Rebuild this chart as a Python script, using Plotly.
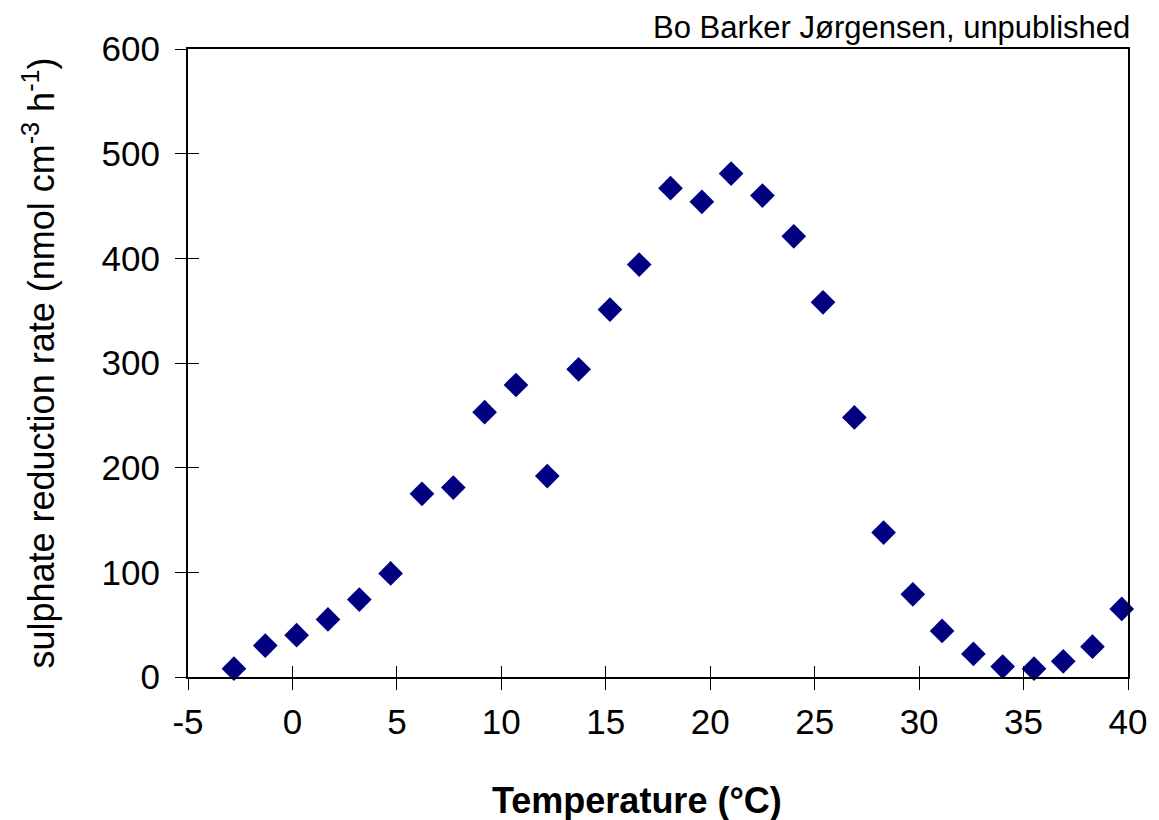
import plotly.graph_objects as go

temperature = [-2.8, -1.3, 0.2, 1.7, 3.2, 4.7, 6.2, 7.7, 9.2, 10.7, 12.2, 13.7, 15.2, 16.6,
               18.1, 19.6, 21.0, 22.5, 24.0, 25.4, 26.9, 28.3, 29.7, 31.1, 32.6, 34.0,
               35.5, 36.9, 38.3, 39.7]
rate = [8, 30, 40, 55, 74, 99, 175, 181, 253, 279, 192, 294, 351, 394,
        467, 454, 481, 460, 421, 358, 248, 138, 79, 44, 22, 10, 8, 15, 29, 65]

x_ticks = [-5, 0, 5, 10, 15, 20, 25, 30, 35, 40]
y_ticks = [0, 100, 200, 300, 400, 500, 600]

FONT = "Liberation Sans, Arial, sans-serif"

fig = go.Figure()
fig.add_trace(go.Scatter(
    x=temperature, y=rate, mode="markers", cliponaxis=False,
    marker=dict(symbol="diamond", size=19, color="#000080", line=dict(width=0)),
    showlegend=False, hoverinfo="x+y",
))
# helper trace on overlay axes to draw inside half of crossing ticks
fig.add_trace(go.Scatter(x=[None], y=[None], xaxis="x2", yaxis="y2",
                         showlegend=False, hoverinfo="skip"))

fig.update_layout(
    width=1159, height=820,
    margin=dict(l=188, r=26, t=49, b=143),
    paper_bgcolor="white", plot_bgcolor="white",
    font=dict(family=FONT, color="black"),
    xaxis=dict(
        range=[-5, 40], tickvals=x_ticks, ticktext=[str(v) for v in x_ticks],
        showgrid=False, zeroline=False,
        showline=True, linecolor="black", linewidth=2, mirror=True,
        ticks="outside", ticklen=11, tickwidth=1, tickcolor="black",
        tickfont=dict(size=35, family=FONT), ticklabelstandoff=2,
    ),
    yaxis=dict(
        range=[0, 600], tickvals=y_ticks, ticktext=[str(v) for v in y_ticks],
        showgrid=False, zeroline=False,
        showline=True, linecolor="black", linewidth=2, mirror=True,
        ticks="outside", ticklen=11, tickwidth=1, tickcolor="black",
        tickfont=dict(size=35, family=FONT), ticklabelstandoff=8,
        title=dict(text="sulphate reduction rate (nmol cm<sup>-3</sup> h<sup>-1</sup>)",
                   font=dict(size=36, family=FONT), standoff=36),
    ),
    xaxis2=dict(
        overlaying="x", matches="x", range=[-5, 40], tickvals=x_ticks, showticklabels=False,
        showgrid=False, zeroline=False, showline=False,
        ticks="inside", ticklen=11, tickwidth=1, tickcolor="black", side="bottom",
    ),
    yaxis2=dict(
        overlaying="y", range=[0, 600], tickvals=y_ticks, showticklabels=False,
        showgrid=False, zeroline=False, showline=False,
        ticks="inside", ticklen=11, tickwidth=1, tickcolor="black", side="left",
    ),
    annotations=[
        dict(
            text="Bo Barker Jørgensen, unpublished", xref="paper", yref="paper",
            x=1.0, y=1.0, xanchor="right", yanchor="bottom", yshift=2, xshift=4, showarrow=False,
            font=dict(size=31, family=FONT, color="black"),
        ),
        dict(
            text="<b>Temperature (°C)</b>", xref="paper", yref="paper",
            x=0.478, y=0, xanchor="center", yanchor="middle", yshift=-123, showarrow=False,
            font=dict(size=36, family=FONT, color="black"),
        ),
    ],
)

fig.write_html("out.html")
